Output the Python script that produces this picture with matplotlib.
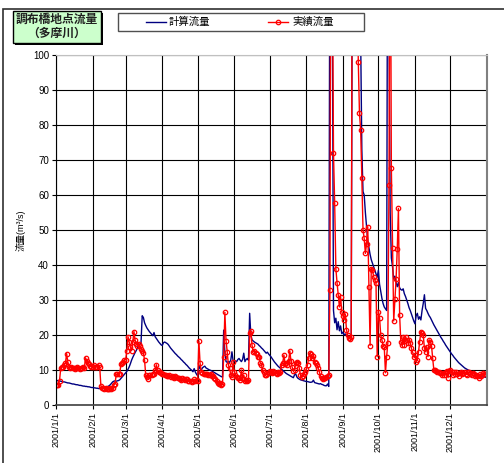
import numpy as np
import pandas as pd
import matplotlib
matplotlib.use("Agg")
import matplotlib.pyplot as plt
from matplotlib.patches import Rectangle
from matplotlib.lines import Line2D

plt.rcParams['font.family'] = ['Liberation Sans', 'Noto Sans CJK JP']

W, H = 504, 463

# 計算流量 (m3/s), por mês
calc_jan = [7.1, 7.0, 6.9, 6.9, 6.8, 6.7, 6.6, 6.6, 6.5, 6.4, 6.3, 6.3, 6.2, 6.1, 6.0, 6.0,
            5.9, 5.8, 5.8, 5.7, 5.6, 5.6, 5.5, 5.4, 5.4, 5.3, 5.3, 5.2, 5.2, 5.1, 5.0]
calc_fev = [5.0, 4.9, 4.9, 4.8, 4.8, 4.7, 4.7, 4.6, 4.6, 4.7, 4.8, 5.0, 5.2, 5.3, 5.5, 5.8,
            6.2, 6.6, 6.8, 6.9, 6.8, 6.9, 7.0, 7.2, 7.6, 8.0, 8.4, 8.8]
calc_mar = [9.2, 9.6, 10.2, 10.9, 11.8, 12.8, 13.6, 14.3, 15.0, 15.6, 16.3, 16.8, 17.4, 17.8,
            25.5, 25.0, 23.5, 22.7, 22.0, 21.5, 21.0, 20.6, 20.2, 19.8, 20.7, 19.5, 19.0, 18.5,
            18.0, 17.6, 17.2]
calc_abr = [17.0, 17.8, 18.0, 17.8, 17.6, 17.3, 16.8, 16.3, 15.9, 15.5, 15.1, 14.7, 14.4, 14.0,
            13.7, 13.4, 13.0, 12.7, 12.3, 12.0, 11.6, 11.3, 10.9, 10.5, 10.2, 9.9, 9.5, 10.4, 9.4, 8.8]
calc_mai = [8.3, 11.3, 10.4, 10.0, 10.6, 10.9, 11.1, 10.6, 10.4, 10.2, 10.0, 9.9, 9.7, 9.5, 9.3,
            9.1, 8.9, 8.7, 8.5, 8.3, 8.1, 8.0, 21.4, 15.0, 12.4, 12.2, 12.4, 12.2, 12.8, 15.2, 12.6]
calc_jun = [12.4, 12.6, 12.4, 13.0, 13.3, 12.8, 12.4, 13.0, 14.8, 12.4, 13.0, 13.3, 12.8, 26.2,
            20.0, 18.6, 18.3, 18.0, 17.8, 17.6, 17.4, 17.0, 16.7, 16.3, 16.0, 15.6, 15.2, 14.8, 15.1, 14.6]
calc_jul = [14.2, 13.8, 13.3, 12.8, 12.3, 11.9, 11.5, 11.1, 10.8, 10.5, 10.2, 9.9, 9.6, 9.3, 9.0,
            8.8, 8.6, 8.4, 8.2, 8.0, 7.8, 8.6, 8.9, 8.0, 7.6, 7.4, 7.2, 7.1, 7.0, 6.9, 6.8]
calc_ago = [6.7, 6.7, 6.6, 6.5, 6.5, 6.6, 7.1, 6.4, 6.3, 6.2, 6.1, 6.0, 6.1, 5.9, 5.8, 5.6, 5.5,
            5.5, 6.0, 5.3, 150.0, 130.0, 115.0, 27.0, 23.5, 24.8, 21.5, 23.8, 21.2, 22.6, 20.4]
calc_set = [20.8, 20.0, 20.3, 19.8, 19.6, 19.4, 19.3, 19.2, 140.0, 170.0, 180.0, 170.0, 155.0,
            140.0, 125.0, 105.0, 73.0, 61.0, 60.0, 55.0, 51.0, 47.0, 45.0, 43.0, 41.5, 40.5, 39.5,
            38.5, 37.5, 36.5]
calc_out = [38.5, 34.5, 32.5, 30.5, 29.0, 28.0, 27.5, 27.0, 170.0, 110.0, 55.0, 42.0, 39.5, 36.0,
            36.8, 35.0, 33.8, 35.0, 33.5, 33.0, 32.8, 33.2, 31.8, 31.0, 30.0, 29.0, 27.8, 27.0,
            26.0, 25.0, 24.0]
calc_nov = [23.2, 25.5, 26.2, 24.5, 25.2, 24.3, 27.0, 29.0, 31.5, 27.6, 27.0, 26.2, 25.5, 25.0,
            24.3, 23.6, 22.9, 22.3, 21.7, 21.1, 20.5, 19.9, 19.3, 18.8, 18.2, 17.7, 17.1, 16.6, 16.1, 15.6]
calc_dez = [15.1, 14.6, 14.2, 13.7, 13.3, 12.9, 12.5, 12.1, 11.8, 11.5, 11.2, 10.9, 10.6, 10.4,
            10.2, 10.0, 9.8, 9.6, 9.5, 9.3, 9.2, 9.0, 8.9, 8.8, 8.7, 8.6, 8.4, 8.3, 8.2, 8.0, 7.9]

# 実績流量 (m3/s), por mês
real_jan = [5.8, 5.8, 5.7, 7.0, 10.5, 10.8, 11.0, 11.5, 12.0, 14.7, 12.3, 11.0, 10.7, 11.0, 10.5,
            10.6, 10.2, 10.5, 10.8, 10.6, 10.4, 10.6, 10.5, 10.8, 10.5, 13.5, 12.5, 12.0, 11.6, 11.2, 11.0]
real_fev = [11.0, 11.5, 11.0, 11.0, 10.8, 11.5, 11.0, 5.5, 5.0, 4.8, 4.6, 4.8, 4.6, 4.7, 4.5, 4.8,
            4.6, 5.0, 5.8, 6.0, 8.8, 8.8, 8.9, 9.0, 11.7, 12.0, 12.4, 12.9]
real_mar = [13.0, 15.5, 19.5, 18.0, 16.5, 15.5, 18.0, 21.0, 18.5, 17.5, 17.0, 17.5, 17.0, 16.0,
            15.5, 15.0, 12.8, 8.5, 8.0, 7.5, 8.5, 8.5, 8.5, 9.0, 9.0, 10.0, 11.5, 10.0, 9.5, 9.5, 9.2]
real_abr = [9.0, 8.8, 8.5, 8.7, 8.4, 8.2, 8.5, 8.0, 8.3, 8.0, 7.8, 8.2, 8.0, 7.6, 7.8, 7.5, 7.2,
            7.6, 7.4, 7.2, 7.5, 7.3, 7.0, 6.8, 7.0, 6.6, 7.0, 7.3, 6.9, 7.2]
real_mai = [7.0, 18.3, 12.0, 9.5, 9.2, 9.0, 9.0, 8.8, 9.0, 8.7, 8.5, 8.8, 8.4, 8.2, 7.8, 7.5, 7.0,
            6.2, 6.0, 6.3, 5.8, 6.0, 13.8, 26.5, 18.4, 15.2, 11.4, 10.5, 8.6, 8.1, 12.4]
real_jun = [9.5, 8.5, 8.0, 7.8, 7.6, 7.2, 10.0, 7.4, 8.6, 7.0, 7.2, 7.0, 7.1, 20.5, 21.2, 17.1,
            15.2, 15.5, 14.8, 14.5, 13.8, 13.8, 12.0, 11.5, 10.0, 9.5, 8.6, 8.6, 9.0, 9.5]
real_jul = [9.8, 9.5, 9.2, 9.6, 9.4, 9.2, 9.0, 9.3, 9.1, 9.5, 11.5, 12.0, 14.3, 11.8, 12.0, 11.5,
            12.5, 15.5, 12.5, 10.8, 9.8, 10.0, 12.0, 12.2, 11.9, 10.5, 8.5, 8.0, 8.3, 8.8, 9.5]
real_ago = [10.2, 11.5, 13.5, 14.8, 14.5, 13.3, 14.0, 12.3, 11.9, 11.5, 10.5, 9.5, 8.3, 7.8, 7.5,
            7.6, 7.8, 8.0, 8.3, 8.5, 33.0, 180.0, 130.0, 72.0, 57.6, 39.0, 35.0, 31.4, 28.0, 31.0, 26.7]
real_set = [25.5, 24.3, 26.0, 21.5, 20.0, 19.2, 19.0, 19.5, 160.0, 210.0, 200.0, 170.0, 130.0,
            98.0, 83.3, 78.6, 65.0, 50.0, 47.6, 43.3, 46.0, 51.0, 33.8, 17.0, 39.0, 38.6, 36.7,
            35.7, 34.8, 13.8]
real_out = [26.7, 25.0, 20.0, 18.6, 17.0, 16.5, 9.2, 13.8, 17.6, 63.0, 160.0, 67.8, 45.0, 24.0,
            30.2, 35.9, 44.6, 56.2, 25.7, 18.1, 17.1, 19.5, 17.2, 19.5, 18.5, 17.8, 18.6, 17.6,
            16.2, 15.2, 13.8]
real_nov = [14.3, 12.4, 13.0, 15.2, 18.1, 21.0, 20.5, 20.0, 16.2, 15.2, 16.7, 13.8, 18.6, 18.1,
            17.0, 13.3, 10.0, 10.0, 9.7, 9.5, 9.5, 9.2, 9.1, 8.5, 9.1, 8.7, 9.5, 9.8, 7.8, 9.8]
real_dez = [10.0, 9.5, 8.6, 9.3, 8.8, 9.5, 9.0, 8.3, 9.1, 9.4, 8.8, 9.2, 9.5, 9.0, 8.7, 9.3, 9.5,
            9.0, 8.5, 9.2, 9.0, 8.4, 8.6, 8.2, 7.8, 8.8, 8.3, 8.6, 9.2, 8.8, 9.0]

rotulos_mes = ['2001/1/1', '2001/2/1', '2001/3/1', '2001/4/1', '2001/5/1', '2001/6/1',
               '2001/7/1', '2001/8/1', '2001/9/1', '2001/10/1', '2001/11/1', '2001/12/1']
titulo = '調布橋地点流量\n（多摩川）'
nomes = ['計算流量', '実績流量']

calculado = np.concatenate([calc_jan, calc_fev, calc_mar, calc_abr, calc_mai, calc_jun,
                            calc_jul, calc_ago, calc_set, calc_out, calc_nov, calc_dez])
realizado = np.concatenate([real_jan, real_fev, real_mar, real_abr, real_mai, real_jun,
                            real_jul, real_ago, real_set, real_out, real_nov, real_dez])
dias = pd.date_range('2001-01-01', '2001-12-31', freq='D')


def fx(px):
    return px / W


def fy(py):
    return 1 - py / H


fig = plt.figure(figsize=(W / 100, H / 100), dpi=100)
ax = fig.add_axes([fx(56), fy(405), fx(487) - fx(56), fy(55) - fy(405)])

ax.plot(dias, calculado, color='#000080', lw=1.0)
ax.plot(dias, realizado, color='#ff0000', lw=1.0, marker='o', ms=3.2, mfc='none', mew=0.9)

ax.set_ylim(0, 100)
ax.set_yticks(range(0, 101, 10))
ax.set_xlim(pd.Timestamp('2001-01-01'), pd.Timestamp('2002-01-01'))
ax.set_xticks(pd.date_range('2001-01-01', periods=12, freq='MS'))
ax.set_xticklabels(rotulos_mes, rotation=90, fontsize=6.5)
ax.tick_params(axis='y', labelsize=7, length=3, width=0.8, pad=2)
ax.tick_params(axis='x', length=3, width=0.8, pad=2)
ax.grid(True, color='black', lw=0.8)
ax.set_axisbelow(True)
ax.spines['top'].set_color('#c0c0c0')
ax.spines['right'].set_color('#808080')
ax.spines['right'].set_linewidth(1.5)
ax.spines['bottom'].set_color('#404040')
ax.spines['bottom'].set_linewidth(1.2)
ax.set_ylabel('流量(m³/s)', fontsize=6.5, labelpad=5)

# moldura externa
fig.patches.append(Rectangle((fx(3), -0.05), 1.1, fy(9) + 0.05, transform=fig.transFigure,
                             fill=False, edgecolor='#303030', lw=1.2))

# caixa do titulo com sombra
fig.patches.append(Rectangle((fx(15), fy(45)), fx(88), 32 / H, transform=fig.transFigure,
                             facecolor='black', edgecolor='black', lw=0))
fig.patches.append(Rectangle((fx(13), fy(43)), fx(88), 32 / H, transform=fig.transFigure,
                             facecolor='#ccffcc', edgecolor='black', lw=1.0))
fig.text(fx(57), fy(27), titulo, ha='center', va='center', fontsize=8.5, fontweight='bold',
         linespacing=1.25, color='#202020')

# legenda
fig.patches.append(Rectangle((fx(118), fy(31)), fx(246), 18 / H, transform=fig.transFigure,
                             facecolor='white', edgecolor='#505050', lw=1.0))
fig.lines.append(Line2D([fx(146), fx(166)], [fy(22), fy(22)], transform=fig.transFigure,
                        color='#000080', lw=1.0))
fig.text(fx(169), fy(22), nomes[0], ha='left', va='center', fontsize=7.5)
fig.lines.append(Line2D([fx(268), fx(288)], [fy(22), fy(22)], transform=fig.transFigure,
                        color='#ff0000', lw=1.0))
fig.lines.append(Line2D([fx(278)], [fy(22)], transform=fig.transFigure, color='#ff0000',
                        marker='o', ms=3.2, mfc='none', mew=0.9))
fig.text(fx(292), fy(22), nomes[1], ha='left', va='center', fontsize=7.5)

fig.savefig('out.png', dpi=100)
